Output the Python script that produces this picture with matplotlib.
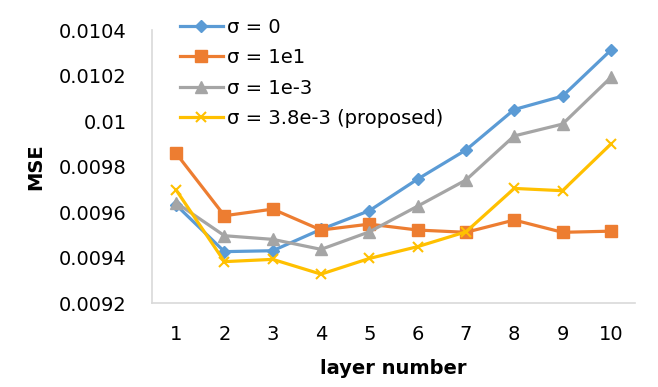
import matplotlib.pyplot as plt
from matplotlib.ticker import FixedLocator

plt.rcParams['font.family'] = ['DejaVu Sans']

layers = [1, 2, 3, 4, 5, 6, 7, 8, 9, 10]
mse_s0 = [0.009631, 0.009426, 0.009430, 0.009524, 0.009606, 0.009745, 0.009873, 0.010051, 0.010110, 0.010312]
mse_s1e1 = [0.009858, 0.009584, 0.009613, 0.009521, 0.009547, 0.009521, 0.009511, 0.009565, 0.009511, 0.009516]
mse_s1e3 = [0.009641, 0.009496, 0.009480, 0.009436, 0.009513, 0.009626, 0.009741, 0.009935, 0.009987, 0.010192]
mse_prop = [0.009697, 0.009382, 0.009392, 0.009327, 0.009396, 0.009448, 0.009513, 0.009704, 0.009694, 0.009899]
yticks = [0.0092, 0.0094, 0.0096, 0.0098, 0.01, 0.0102, 0.0104]
ytick_labels = ['0.0092', '0.0094', '0.0096', '0.0098', '0.01', '0.0102', '0.0104']

fig = plt.figure(figsize=(6.58, 3.87), dpi=100)
ax = fig.add_axes([0.231, 0.217, 0.734, 0.705])

lw = 2.3
ax.plot(layers, mse_s0, color='#5B9BD5', lw=lw, marker='D', ms=6, label='σ = 0')
ax.plot(layers, mse_s1e1, color='#ED7D31', lw=lw, marker='s', ms=9, label='σ = 1e1')
ax.plot(layers, mse_s1e3, color='#A5A5A5', lw=lw, marker='^', ms=8.5, label='σ = 1e-3')
ax.plot(layers, mse_prop, color='#FFC000', lw=lw, marker='x', ms=7.5, mew=1.5,
        label='σ = 3.8e-3 (proposed)')

ax.set_xlim(0.5, 10.5)
ax.set_ylim(0.0092, 0.0104)
ax.set_xticks(layers)
ax.yaxis.set_major_locator(FixedLocator(yticks))
ax.set_yticklabels(ytick_labels)
ax.tick_params(length=0, labelsize=14, colors='#000000')
ax.tick_params(axis='y', pad=18)
ax.tick_params(axis='x', pad=16)

for s in ['top', 'right']:
    ax.spines[s].set_visible(False)
for s in ['left', 'bottom']:
    ax.spines[s].set_color('#D9D9D9')
    ax.spines[s].set_linewidth(1.2)

ax.set_xlabel('layer number', fontsize=14, fontweight='bold', labelpad=10.5)
ax.set_ylabel('MSE', fontsize=14, fontweight='bold', labelpad=10)

ax.legend(loc='upper left', bbox_to_anchor=(0.2736, 0.954), bbox_transform=fig.transFigure,
          frameon=False, fontsize=14, handlelength=2.2, handletextpad=0.2,
          labelspacing=0.59, borderaxespad=0, borderpad=0)

plt.savefig('out.png', dpi=100)
